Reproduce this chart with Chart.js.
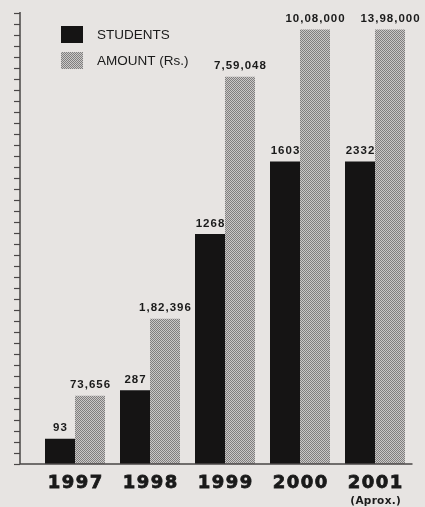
<!DOCTYPE html>
<html>
<head>
<meta charset="utf-8">
<script src="https://cdn.jsdelivr.net/npm/chart.js@4"></script>
<style>
    html, body { margin: 0; padding: 0; background: #e7e4e2; }
    #wrap { width: 425px; height: 507px; }
</style>
</head>
<body>
<div id="wrap"><canvas id="chart" width="425" height="507"></canvas></div>
<script>
// Data (bar heights are as drawn in the picture, which is not to scale)
const years = ['1997', '1998', '1999', '2000', '2001'];
const yearNotes = ['', '', '', '', '(Aprox.)'];
const studentLabels = ['93', '287', '1268', '1603', '2332'];
const amountLabels = ['73,656', '1,82,396', '7,59,048', '10,08,000', '13,98,000'];
const studentHeights = [2.3, 6.7, 20.9, 27.5, 27.5];
const amountHeights = [6.2, 13.2, 35.2, 39.5, 39.5];
const axisMax = 41;

// Halftone grey for the amount bars
function makeHalftone() {
    const c = document.createElement('canvas');
    c.width = 2;
    c.height = 2;
    const g = c.getContext('2d');
    g.fillStyle = '#cac8c7';
    g.fillRect(0, 0, 2, 2);
    g.fillStyle = '#807e7e';
    g.fillRect(0, 0, 1, 1);
    g.fillRect(1, 1, 1, 1);
    return g.createPattern(c, 'repeat');
}
const halftone = makeHalftone();

// Axis, labels and legend drawn on top of the bars
const decorations = {
    id: 'decorations',
    beforeDraw(chart) {
        const ctx = chart.ctx;
        ctx.save();
        ctx.fillStyle = '#e7e4e2';
        ctx.fillRect(0, 0, chart.width, chart.height);
        ctx.restore();
    },
    afterDatasetsDraw(chart) {
        const ctx = chart.ctx;
        const area = chart.chartArea;
        const y = chart.scales.y;
        const x = chart.scales.x;
        const axisX = area.left - 17.5;

        ctx.save();
        // y axis with tick marks
        ctx.strokeStyle = '#4a4646';
        ctx.lineWidth = 1.5;
        ctx.beginPath();
        ctx.moveTo(axisX, y.getPixelForValue(axisMax) - 1);
        ctx.lineTo(axisX, y.getPixelForValue(0));
        ctx.lineTo(area.right, y.getPixelForValue(0));
        ctx.stroke();
        ctx.lineWidth = 1.2;
        y.ticks.forEach(t => {
            const py = Math.round(y.getPixelForValue(t.value)) + 0.5;
            ctx.beginPath();
            ctx.moveTo(axisX - 6, py);
            ctx.lineTo(axisX, py);
            ctx.stroke();
        });

        // value labels above bars
        ctx.fillStyle = '#1a1a1a';
        ctx.font = 'bold 11.5px "Liberation Sans", Arial, sans-serif';
        ctx.letterSpacing = '1px';
        ctx.textAlign = 'center';
        ctx.textBaseline = 'middle';
        chart.data.datasets.forEach((ds, d) => {
            const meta = chart.getDatasetMeta(d);
            meta.data.forEach((bar, i) => {
                ctx.fillText(ds.valueLabels[i], bar.x + 0.5, bar.y - 10.5);
            });
        });

        // year labels
        ctx.font = 'bold 18px "DejaVu Sans", sans-serif';
        ctx.letterSpacing = '1.5px';
        ctx.lineWidth = 0.8;
        ctx.strokeStyle = '#1a1a1a';
        years.forEach((yr, i) => {
            const px = x.getPixelForValue(i) + 0.7;
            ctx.fillText(yr, px, 483);
            ctx.strokeText(yr, px, 483);
            if (yearNotes[i]) {
                ctx.font = 'bold 10.5px "DejaVu Sans", sans-serif';
                ctx.letterSpacing = '0.3px';
                ctx.fillText(yearNotes[i], px, 501);
                ctx.font = 'bold 18px "DejaVu Sans", sans-serif';
                ctx.letterSpacing = '1.5px';
            }
        });

        // legend
        ctx.letterSpacing = '0px';
        ctx.font = '13.5px "Liberation Sans", Arial, sans-serif';
        ctx.textAlign = 'left';
        chart.data.datasets.forEach((ds, d) => {
            const top = 26 + d * 26;
            ctx.fillStyle = ds.backgroundColor;
            ctx.fillRect(61, top, 22, 17);
            ctx.fillStyle = '#1a1a1a';
            ctx.fillText(ds.label, 97, top + 9);
        });
        ctx.restore();
    }
};

function createChart() {
    const ctx = document.getElementById('chart').getContext('2d');
    new Chart(ctx, {
        type: 'bar',
        data: {
            labels: years,
            datasets: [
                {
                    label: 'STUDENTS',
                    data: studentHeights,
                    valueLabels: studentLabels,
                    backgroundColor: '#151414'
                },
                {
                    label: 'AMOUNT (Rs.)',
                    data: amountHeights,
                    valueLabels: amountLabels,
                    backgroundColor: halftone
                }
            ]
        },
        options: {
            responsive: false,
            animation: false,
            layout: {
                padding: { left: 37.5, right: 12.5, top: 13, bottom: 43 }
            },
            datasets: {
                bar: {
                    categoryPercentage: 0.8,
                    barPercentage: 1.0
                }
            },
            plugins: {
                legend: { display: false },
                tooltip: { enabled: false }
            },
            scales: {
                x: { display: false },
                y: {
                    display: false,
                    min: 0,
                    max: axisMax,
                    // tiny hidden font so every unit gets a tick mark
                    ticks: { stepSize: 1, maxTicksLimit: 100, font: { size: 5 } }
                }
            }
        },
        plugins: [decorations]
    });
}

createChart();
</script>
</body>
</html>
